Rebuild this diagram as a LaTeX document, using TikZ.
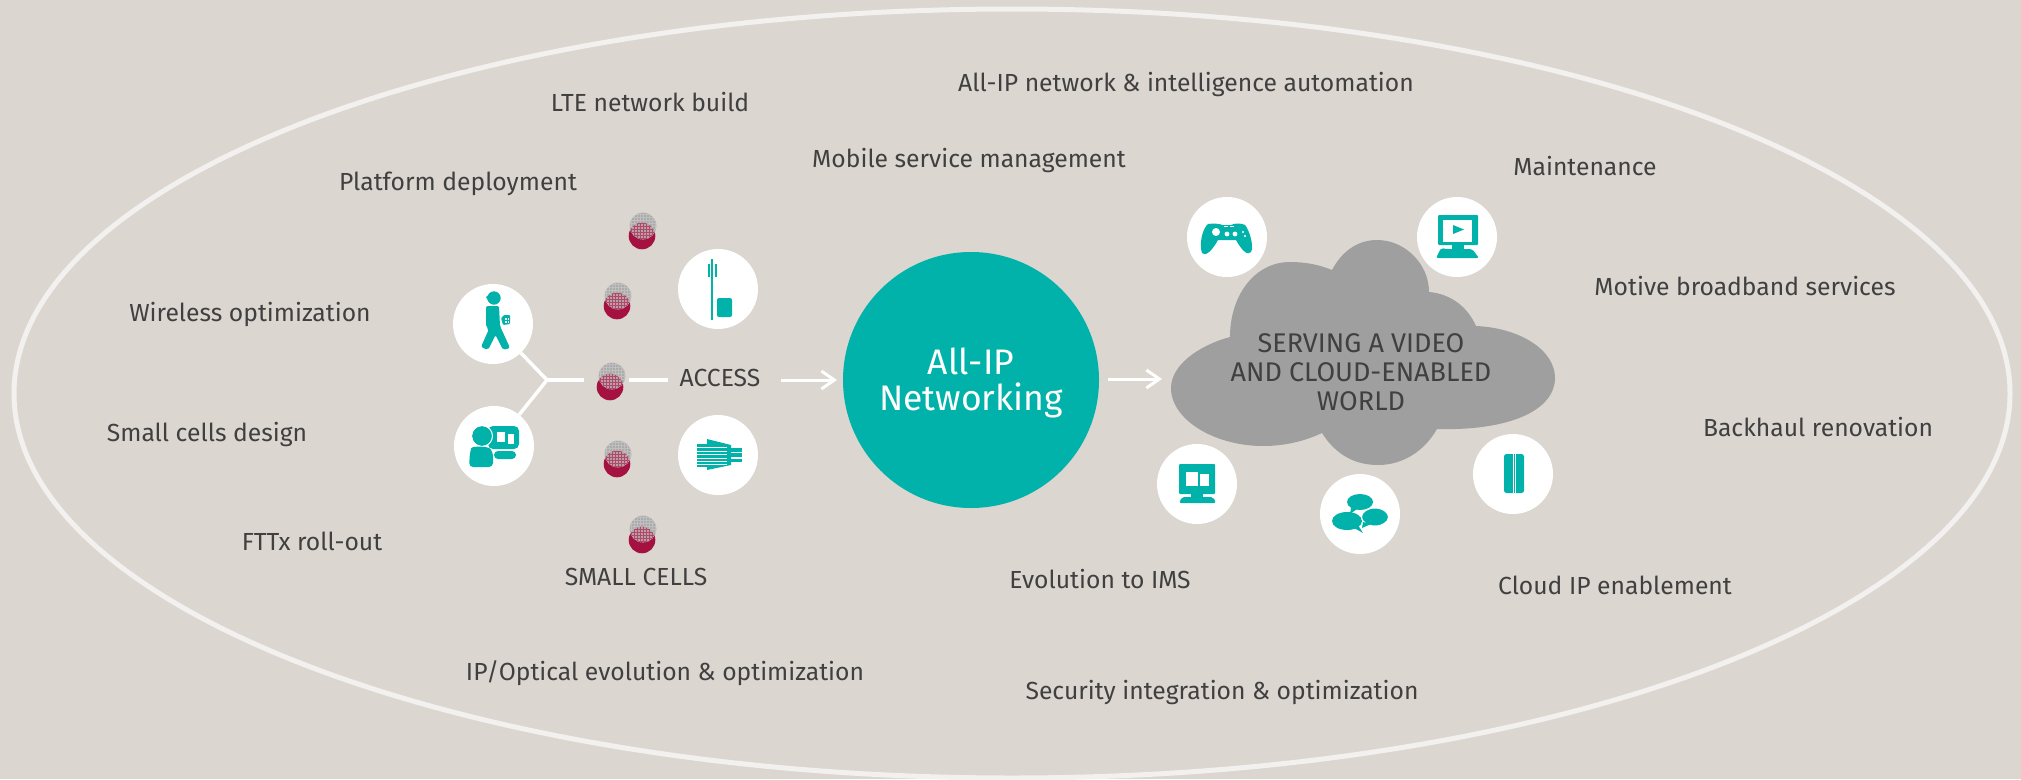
\documentclass[tikz,border=0pt]{standalone}
\usepackage{fontspec}
\setmainfont{Fira Sans}
\usetikzlibrary{arrows.meta,calc}
\definecolor{bgc}{HTML}{DBD6D0}
\definecolor{teal}{HTML}{00B2A9}
\definecolor{wine}{HTML}{A51140}
\definecolor{txtc}{HTML}{404040}
\definecolor{cloudc}{HTML}{9F9F9F}
\definecolor{ringc}{HTML}{F2F1F0}
\definecolor{overlapc}{HTML}{B9A0A8}
\definecolor{overgrid}{HTML}{B04A6A}
\tikzset{
  lab/.style={text=txtc,font=\fontsize{24.7}{28}\selectfont,inner sep=0pt,anchor=center},
  disc/.style={circle,fill=white,minimum size=80pt,inner sep=0pt},
  link/.style={draw=white,line width=3.5pt},
  flow/.style={draw=white,line width=3pt,-{Straight Barb[length=13pt,width=18pt,line width=3pt]}},
}
\newcommand{\sitedot}[4]{%
  \fill[wine] (#3,#4) circle (13.3);
  \fill[black!33] (#1,#2) circle (13.3);
  \begin{scope}
    \clip (#1,#2) circle (13.3);
    \foreach \k in {-15,-12,...,15}{
      \draw[white!75!black,line width=.6pt] (#1+\k,#2-15) -- (#1+\k,#2+15);
      \draw[white!75!black,line width=.6pt] (#1-15,#2+\k) -- (#1+15,#2+\k);}
    \clip (#3,#4) circle (13.3);
    \fill[overlapc] (#1-15,#2-15) rectangle (#1+15,#2+15);
    \foreach \k in {-15,-12,...,15}{
      \draw[overgrid,line width=.6pt] (#1+\k,#2-15) -- (#1+\k,#2+15);
      \draw[overgrid,line width=.6pt] (#1-15,#2+\k) -- (#1+15,#2+\k);}
  \end{scope}}
\begin{document}
\begin{tikzpicture}[x=1pt,y=-1pt]
\useasboundingbox (0,0) rectangle (2021,779);
\fill[bgc] (0,0) rectangle (2021,779);
\draw[ringc,line width=5pt] (1012,393.5) ellipse [x radius=998,y radius=384.5];

% labels
\node[lab] (l1) at (1186,84) {All-IP network \& intelligence automation};
\node[lab] (l2) at (650,102) {LTE network build};
\node[lab] (l3) at (969,160) {Mobile service management};
\node[lab] (l4) at (458,184) {Platform deployment};
\node[lab] (l5) at (1585,166) {Maintenance};
\node[lab] (l6) at (1745,286) {Motive broadband services};
\node[lab] (l7) at (250,314) {Wireless optimization};
\node[lab] (l8) at (207,434) {Small cells design};
\node[lab] (l9) at (1818,427) {Backhaul renovation};
\node[lab] (l10) at (312,541) {FTTx roll-out};
\node[lab] (l11) at (636,577) {SMALL CELLS};
\node[lab] (l12) at (1100,579) {Evolution to IMS};
\node[lab] (l13) at (1615,585) {Cloud IP enablement};
\node[lab] (l14) at (665,673) {IP/Optical evolution \& optimization};
\node[lab] (l15) at (1222,692) {Security integration \& optimization};

% left connectors
\coordinate (junc) at (547,380);
\coordinate (stub) at (584,380);
\coordinate (stubb) at (629,380);
\coordinate (stubc) at (668,380);
\node[lab] (access) at (720,378) {ACCESS};
\node[disc] (walker) at (493,324) {};
\node[disc] (presenter) at (494,446) {};
\draw[link] (walker) -- (junc) -- (presenter);
\draw[link] (junc) -- (stub);
\draw[link] (stubb) -- (stubc);

\sitedot{643}{226}{642}{236}
\sitedot{618}{296}{617}{306}
\sitedot{612}{376}{610}{387}
\sitedot{618}{454}{617}{464}
\sitedot{643}{529}{642}{540}

% central
\node[circle,fill=teal,minimum size=256pt,inner sep=0pt] (core) at (971,380) {};
\node[align=center,text=white,inner sep=0pt,font=\fontsize{35.5}{36}\selectfont] (coretext) at (971,383) {All-IP\\Networking};
\coordinate (a1) at (781,380);
\coordinate (a2) at (837,380);
\draw[flow] (a1) -- (a2);
\coordinate (b1) at (1108,379);
\coordinate (b2) at (1162,379);
\draw[flow] (b1) -- (b2);

% cloud
\fill[cloudc] (1171,388) .. controls (1171,366) and (1197,346) .. (1230,337)
 .. controls (1230,295) and (1255,262) .. (1290,262)
 .. controls (1306,262) and (1320,265) .. (1332,270)
 .. controls (1342,251) and (1358,240) .. (1377,240)
 .. controls (1405,240) and (1429,264) .. (1429,292)
 .. controls (1452,294) and (1468,308) .. (1476,326)
 .. controls (1520,328) and (1555,350) .. (1555,378)
 .. controls (1555,410) and (1510,431) .. (1437,429)
 .. controls (1425,450) and (1404,465) .. (1378,465)
 .. controls (1352,465) and (1334,452) .. (1322,433)
 .. controls (1305,441) and (1285,446) .. (1263,446)
 .. controls (1215,446) and (1171,420) .. (1171,388) -- cycle;
\node[lab,align=center,font=\fontsize{27}{29}\selectfont] (cloudtext) at (1361,372) {SERVING A VIDEO\\AND CLOUD-ENABLED\\WORLD};

% discs
\node[disc] (tower) at (718,289) {};
\node[disc] (fibre) at (718,455) {};
\node[disc] (game) at (1227,237) {};
\node[disc] (screen) at (1457,237) {};
\node[disc] (desk) at (1197,484) {};
\node[disc] (chat) at (1360,514) {};
\node[disc] (card) at (1513,474) {};

% walker
\begin{scope}[shift={(493,324)}]
  \fill[teal] (1,-26) circle (6.7);
  \fill[teal] (-7,-27) -- (-3,-30) -- (-1,-24) -- (-4,-22) -- cycle;
  \fill[teal,rounded corners=2pt] (-7,-18) -- (6,-18) -- (7,2) -- (17,24) -- (10,26) -- (2.5,11) -- (-5,26) -- (-12,23) -- (-4,5) -- (-7,3) -- cycle;
  \fill[teal,rounded corners=1pt] (8,-6) -- (11,-9) -- (17,-9) -- (17,0) -- (10,1) -- cycle;
  \fill[white] (12,-6.5) rectangle (13.8,-4.5);
  \fill[white] (14.6,-6.5) rectangle (16.2,-4.5);
  \fill[white] (12,-3.5) rectangle (13.8,-1.5);
  \fill[white] (14.6,-3.5) rectangle (16.2,-1.5);
\end{scope}
% presenter
\begin{scope}[shift={(494,446)}]
  \fill[teal,rounded corners=5pt] (-6,-20) rectangle (25,3);
  \fill[teal] (-12,-10) circle (10);
  \draw[white,line width=1pt] (-12,-10) circle (10.5);
  \fill[white] (3,-14) rectangle (11,-4);
  \fill[white] (14,-12) rectangle (20,-2);
  \fill[teal,rounded corners=4pt] (0,5) rectangle (22,13);
  \fill[teal,rounded corners=4pt] (-25,21) -- (-24,6) .. controls (-22,0) and (-6,0) .. (-1,6) -- (-1,21) -- cycle;
\end{scope}
% tower
\begin{scope}[shift={(718,289)}]
  \fill[teal] (-7,-30) rectangle (-4.6,31);
  \fill[teal] (-10,-25) rectangle (-8,-12);
  \fill[teal] (-3.5,-25) rectangle (-1.5,-12);
  \fill[teal,rounded corners=2pt] (-1,9) rectangle (14,28);
\end{scope}
% fibre
\begin{scope}[shift={(718,455)}]
  \fill[teal] (-11,-16) -- (13,-10) -- (13,10) -- (-11,15) -- cycle;
  \fill[teal] (-21,-11) rectangle (-10,12);
  \fill[teal] (13,-7) rectangle (24,-3);
  \fill[teal] (13,-2) rectangle (24,2);
  \fill[teal] (13,4) rectangle (24,7);
  \foreach \yy in {-8,-4.5,-1,2.5,6,9}{\fill[white] (-21,\yy) rectangle (9,\yy+1);}
\end{scope}
% controller
\begin{scope}[shift={(1227,237)}]
  \fill[teal] (-19,-13) .. controls (-12,-14) and (-8,-13) .. (-4,-12) -- (4,-12)
   .. controls (8,-14) and (14,-14) .. (18,-12) .. controls (23,-6) and (27,10) .. (24,15)
   .. controls (21,19) and (15,14) .. (9,3) -- (-9,3) .. controls (-15,14) and (-22,20) .. (-25,16)
   .. controls (-28,8) and (-25,-8) .. (-19,-13) -- cycle;
  \fill[white] (-11,-5) circle (4);
  \fill[white] (0,-3) circle (2.4);
  \fill[white] (8,-3) circle (2.4);
  \fill[white] (-3,-11) rectangle (1,-10);
  \fill[white] (3,-11) rectangle (7,-10);
  \fill[white] (16,-5) circle (1.1);
  \fill[white] (18,-1) circle (1.1);
\end{scope}
% screen
\begin{scope}[shift={(1457,237)}]
  \fill[teal,rounded corners=1pt] (-19,-22) rectangle (21,8);
  \fill[white] (-14,-17) rectangle (15,5);
  \fill[teal] (-4,-12) -- (7,-7.5) -- (-4,-3) -- cycle;
  \fill[teal] (-5,5) rectangle (7,12);
  \fill[teal,rounded corners=2pt] (-16,11) -- (-11,12) -- (15,12) -- (22,21) -- (-21,21) -- cycle;
\end{scope}
% desktop
\begin{scope}[shift={(1197,484)}]
  \fill[teal,rounded corners=1pt] (-18,-20) rectangle (18,10);
  \fill[white] (-11,-12) rectangle (1,2);
  \fill[white] (3,-10) rectangle (12,2);
  \fill[teal] (-6,9) rectangle (6,14);
  \fill[teal,rounded corners=2pt] (-15,13) -- (16,13) -- (19,19) -- (-18,19) -- cycle;
\end{scope}
% chat
\begin{scope}[shift={(1360,514)}]
  \fill[teal] (0,-12) ellipse [x radius=13,y radius=8];
  \fill[teal] (-9,-6) -- (-10,0) -- (-3,-5) -- cycle;
  \fill[teal] (-13,7) ellipse [x radius=15,y radius=9];
  \fill[teal] (-6,14) -- (3,19) -- (-2,11) -- cycle;
  \draw[white,line width=1pt,fill=teal] (15,3) ellipse [x radius=13.5,y radius=9];
  \fill[teal] (3,8) -- (2,14) -- (11,10) -- cycle;
\end{scope}
% card
\begin{scope}[shift={(1513,474)}]
  \fill[teal,rounded corners=2.5pt] (-9,-20) rectangle (11,19);
  \fill[white] (-0.3,-20) rectangle (0.7,19);
  \fill[white] (2.2,-20) rectangle (3.2,19);
\end{scope}
\end{tikzpicture}
\end{document}
